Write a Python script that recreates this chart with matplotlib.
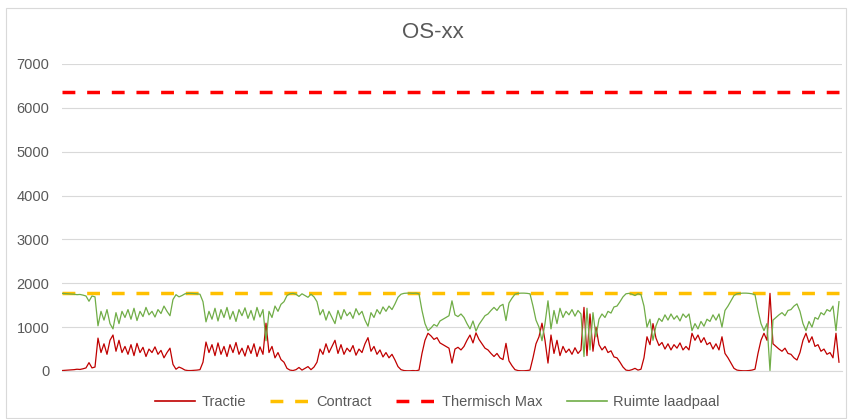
#!/usr/bin/env python3
"""
Recreate the OS-xx load chart: traction load, contract and thermal limits,
and the remaining space for the charging pole.
"""

import numpy as np
import matplotlib.pyplot as plt
from matplotlib.lines import Line2D
from matplotlib.patches import Rectangle

plt.rcParams['font.family'] = ['Liberation Sans', 'DejaVu Sans']

# Values (one sample every few minutes)
tractie = [
    # cycle 1
    10, 15, 20, 25, 30, 40, 35, 50, 70, 190, 70, 90,
    750, 420, 620, 380, 700, 820, 450, 700, 420, 560, 380, 600, 350,
    630, 420, 540, 330, 500, 420, 550, 380, 470, 300, 420, 520,
    150, 40, 90, 60, 20, 10, 10, 15, 20, 30,
    # cycle 2
    200, 660, 420, 600, 350, 640, 380, 560, 330, 600, 420, 650, 380,
    520, 340, 580, 400, 620, 330, 550, 380, 1090, 420, 560, 300, 420,
    260, 200, 60, 20, 10, 30, 80, 20, 60, 100, 30, 90,
    # cycle 3
    200, 500, 380, 620, 420, 560, 700, 400, 600, 380, 520, 440, 580,
    360, 500, 420, 620, 760, 450, 560, 380, 480, 320, 420, 300, 380,
    250, 100, 30, 10, 5, 5, 10, 5, 20,
    # cycle 4
    400, 700, 860, 800, 720, 760, 640, 600, 560, 520, 180, 500, 540,
    480, 560, 700, 820, 640, 870, 720, 620, 520, 480, 400, 330, 400,
    300, 260, 630, 230, 120, 30, 10, 5, 5, 10, 20,
    # cycle 5
    300, 620, 780, 1090, 700, 180, 820, 400, 700, 350, 560, 420, 500,
    380, 530, 400, 480, 1450, 350, 1300, 450, 1000, 600, 480, 560, 420,
    460, 320, 300, 200, 90, 20, 10, 30, 60, 20, 40,
    # cycle 6
    300, 780, 600, 1080, 750, 580, 650, 500, 620, 480, 600, 520, 640,
    480, 560, 480, 860, 700, 820, 650, 760, 600, 650, 500, 620, 480,
    780, 400, 300, 180, 60, 20, 10, 5, 5, 10, 20, 40,
    # cycle 7
    400, 700, 860, 700, 1770, 620, 560, 500, 450, 520, 400, 380, 300,
    250, 420, 700, 860, 650, 780, 560, 600, 450, 500, 380, 420, 300,
    860, 200,
]
contract = 1780
thermisch_max = 6350

y_ticks = [0, 1000, 2000, 3000, 4000, 5000, 6000, 7000]

title = 'OS-xx'
labels = ['Tractie', 'Contract', 'Thermisch Max', 'Ruimte laadpaal']
colors = ['#C00000', '#FFC000', '#FF0000', '#70AD47']

tractie = np.array(tractie, dtype=float)
n = len(tractie)
x = np.arange(n)
# remaining room for the charging pole under the contract
ruimte = contract - tractie

DASH = (3.7, 3.4)
THICK = 2.5
THIN = 0.9

fig = plt.figure(figsize=(8.48, 4.19), dpi=100)
ax = fig.add_axes([0.0731, 0.1146, 0.9198, 0.7327])

ax.plot(x, tractie, color=colors[0], lw=THIN)
ax.plot(x, np.full(n, contract), color=colors[1], lw=THICK, dashes=DASH)
ax.plot(x, np.full(n, thermisch_max), color=colors[2], lw=THICK, dashes=DASH)
ax.plot(x, ruimte, color=colors[3], lw=THIN)

ax.set_xlim(0, n)
ax.set_ylim(0, 7000)
ax.set_yticks(y_ticks)
ax.set_xticks([])
ax.grid(axis='y', color='#D9D9D9', lw=0.8)
ax.set_axisbelow(True)
for side in ['top', 'right', 'left']:
    ax.spines[side].set_visible(False)
ax.spines['bottom'].set_color('#D9D9D9')
ax.spines['bottom'].set_linewidth(0.8)
ax.tick_params(axis='y', length=0, labelsize=10.5, colors='#595959', pad=9)

fig.text(0.511, 0.922, title, ha='center', va='center',
         fontsize=16, color='#595959')

# legend handles: thin solid lines, thick dashed lines
handles = [
    Line2D([], [], color=colors[0], lw=1.2),
    Line2D([], [], color=colors[1], lw=THICK, dashes=DASH),
    Line2D([], [], color=colors[2], lw=THICK, dashes=DASH),
    Line2D([], [], color=colors[3], lw=1.2),
]
leg = fig.legend(handles, labels, loc='center', bbox_to_anchor=(0.516, 0.041),
                 ncol=4, frameon=False, fontsize=10.5, handlelength=2.74,
                 columnspacing=1.7, handletextpad=0.4)
for text in leg.get_texts():
    text.set_color('#595959')

# light chart-area border
fig.patches.append(Rectangle((0.007, 0.002), 0.991, 0.98,
                             transform=fig.transFigure, fill=False,
                             edgecolor='#D9D9D9', lw=0.8))

fig.savefig('out.png', dpi=100)
